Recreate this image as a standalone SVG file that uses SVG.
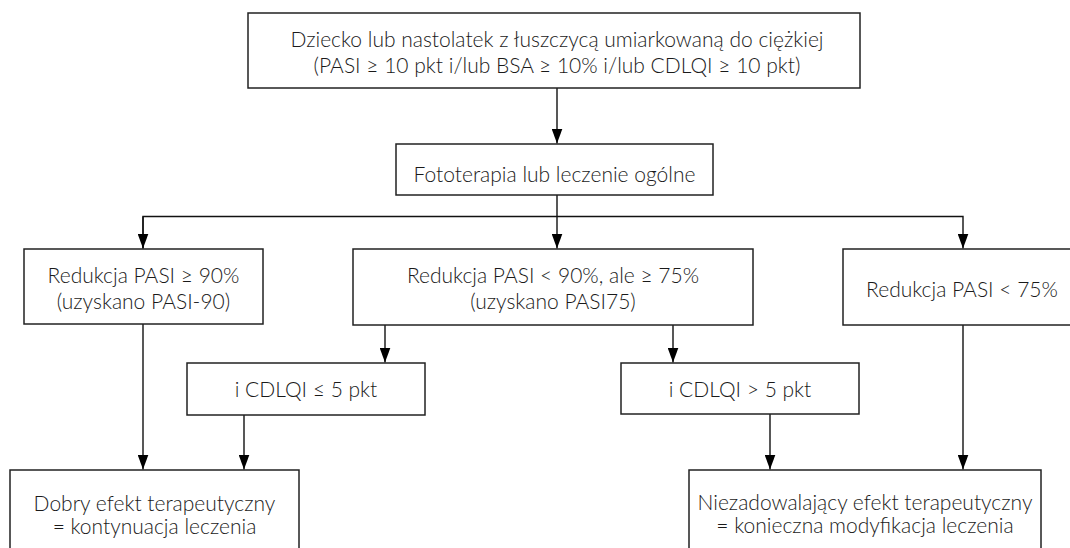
<svg xmlns="http://www.w3.org/2000/svg" width="1070" height="548" viewBox="0 0 1070 548">
<defs>
<style>
.box{fill:#fff;stroke:#222;stroke-width:1.5}
.t{font-family:Lato,"Open Sans","Liberation Sans",sans-serif;font-weight:300;font-size:21px;fill:#1a1a1a;text-anchor:middle}
.c{fill:none;stroke:#111;stroke-width:1.4}
</style>
<marker id="ah" viewBox="0 0 15 11" refX="15" refY="5.5" markerWidth="15" markerHeight="11" markerUnits="userSpaceOnUse" orient="auto">
<path d="M0,0 L15,5.5 L0,11 Z" fill="#000"/>
</marker>
</defs>
<rect width="1070" height="548" fill="#fff"/>
<g id="connectors">
<path class="c" d="M557,88 V143.5" marker-end="url(#ah)"/>
<path class="c" d="M557,195 V248.5" marker-end="url(#ah)"/>
<path class="c" d="M143,248.5 V216.5 H963 V248.5" marker-end="url(#ah)"/>
<path class="c" d="M143,216.5 V248.5" marker-end="url(#ah)"/>
<path class="c" d="M385,325 V362.5" marker-end="url(#ah)"/>
<path class="c" d="M673,325 V362.5" marker-end="url(#ah)"/>
<path class="c" d="M143,324 V469.5" marker-end="url(#ah)"/>
<path class="c" d="M244,415 V469.5" marker-end="url(#ah)"/>
<path class="c" d="M770,414 V469.5" marker-end="url(#ah)"/>
<path class="c" d="M963,325 V469.5" marker-end="url(#ah)"/>
</g>
<g id="n1">
<rect class="box" x="248" y="13" width="612" height="75"/>
<text class="t" x="557" y="47">Dziecko lub nastolatek z łuszczycą umiarkowaną do ciężkiej</text>
<text class="t" x="557" y="73">(PASI ≥ 10 pkt i/lub BSA ≥ 10% i/lub CDLQI ≥ 10 pkt)</text>
</g>
<g id="n2">
<rect class="box" x="396" y="144" width="317" height="51"/>
<text class="t" x="554.5" y="182">Fototerapia lub leczenie ogólne</text>
</g>
<g id="n3">
<rect class="box" x="24" y="249" width="239" height="75"/>
<text class="t" x="143.5" y="283">Redukcja PASI ≥ 90%</text>
<text class="t" x="143.5" y="309">(uzyskano PASI-90)</text>
</g>
<g id="n4">
<rect class="box" x="353" y="249" width="400" height="76"/>
<text class="t" x="553" y="283">Redukcja PASI &lt; 90%, ale ≥ 75%</text>
<text class="t" x="553" y="309">(uzyskano PASI75)</text>
</g>
<g id="n5">
<rect class="box" x="843" y="249" width="240" height="76"/>
<text class="t" x="962" y="297">Redukcja PASI &lt; 75%</text>
</g>
<g id="n6">
<rect class="box" x="187" y="363" width="238" height="52"/>
<text class="t" x="306" y="397">i CDLQI ≤ 5 pkt</text>
</g>
<g id="n7">
<rect class="box" x="621" y="363" width="238" height="51"/>
<text class="t" x="740" y="397">i CDLQI &gt; 5 pkt</text>
</g>
<g id="n8">
<rect class="box" x="10" y="470" width="289" height="90"/>
<text class="t" x="154.5" y="511">Dobry efekt terapeutyczny</text>
<text class="t" x="154.5" y="534">= kontynuacja leczenia</text>
</g>
<g id="n9">
<rect class="box" x="689" y="470" width="352" height="90"/>
<text class="t" x="865" y="510">Niezadowalający efekt terapeutyczny</text>
<text class="t" x="865" y="533">= konieczna modyfikacja leczenia</text>
</g>
</svg>
